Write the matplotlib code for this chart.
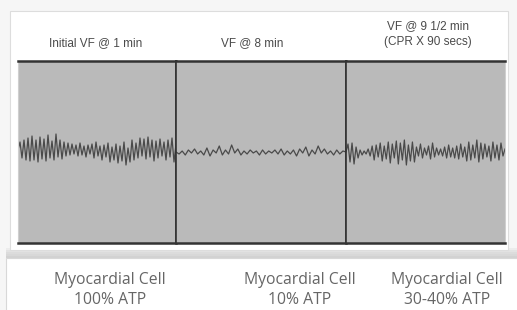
import numpy as np
import matplotlib
matplotlib.use('Agg')
import matplotlib.pyplot as plt
from matplotlib.patches import Rectangle

# Valores de la traza (amplitud en px, positivo hacia arriba)
p1 = [2, 10, -6, 12, -8, 14, -9, 16, -8, 12, -10, 15, -7, 13, -9, 17, -6, 11, -8, 18,
      -5, 12, -7, 10, -4, 9, -3, 8, -2, 7, -4, 9, -3, 6, -5, 7, -2, 8, -6, 10,
      -4, 6, -8, 7, -5, 9, -10, 5, -8, 8, -11, 6, -9, 10, -13, 4, -10, 12, -8, 9,
      -6, 14, -4, 13, -7, 15, -5, 12, -9, 11, -6, 13, -4, 10, -8, 12, -5, 14, -10, 8]
p2 = [0, -2, 1, -3, 2, -1, 3, -2, 1, -3, 4, -4, 2, -1, 6, -3, 2, -2, 7, -1,
      3, -3, 1, -2, 2, -1, 1, -3, 2, -2, 1, -1, 2, -2, 3, -3, 1, -2, 2, -4,
      3, -1, 5, -4, 2, -2, 6, -1, 3, -2, 1, -3, 2, -2, 1, 0]
p3 = [0, 8, -10, 9, -12, 5, -6, 2, -3, 1, -2, 3, -4, 6, -8, 7, -5, 9, -9, 6,
      -7, 10, -11, 8, -6, 11, -12, 9, -8, 12, -13, 7, -9, 10, -10, 5, -4, 8, -6, 4,
      -3, 6, -7, 9, -5, 4, -3, 3, -4, 5, -6, 7, -5, 4, -6, 6, -7, 8, -5, 5,
      -9, 10, -8, 7, -6, 12, -10, 9, -7, 8, -5, 6, -9, 10, -6, 7, -8, 9, -4, 3]
trazas = [p1, p2, p3]

titulos = ['Initial VF @ 1 min', 'VF @ 8 min', 'VF @ 9 1/2 min\n(CPR X 90 secs)']
etiquetas = ['Myocardial Cell\n100% ATP', 'Myocardial Cell\n10% ATP', 'Myocardial Cell\n30-40% ATP']

W, H = 517, 310
fig = plt.figure(figsize=(W/100, H/100), dpi=100, facecolor='#f6f6f6')

def fx(px): return px/W
def fy(py): return 1 - py/H

# sombra y tarjetas blancas
for i, a in enumerate([0.05, 0.05, 0.06, 0.07, 0.08]):
    fig.patches.append(Rectangle((fx(6), fy(258)), fx(511), (i+1)*2/H, transform=fig.transFigure,
                                 facecolor='#7a7a7a', alpha=a, edgecolor='none', zorder=0))
fig.patches.append(Rectangle((fx(10), fy(250)), fx(498), 239/H, transform=fig.transFigure,
                             facecolor='white', edgecolor='#dddddd', lw=0.8, zorder=1))
fig.patches.append(Rectangle((fx(6), fy(312)), fx(520), 54/H, transform=fig.transFigure,
                             facecolor='white', edgecolor='#d8d8d8', lw=0.8, zorder=1))

bordes = [18, 176, 346, 505]
top, bot = 61, 243
centros_titulo = [96, 252, 428]
centros_etq = [110, 300, 447]

for i in range(3):
    ax = fig.add_axes([fx(bordes[i]), fy(bot), fx(bordes[i+1]-bordes[i]), (bot-top)/H])
    ax.set_zorder(3)
    ax.set_facecolor('#bababa')
    y = trazas[i]
    ax.plot(range(len(y)), y, color='#4a4a4a', lw=0.9)
    ax.set_xlim(0, len(y)-1)
    ax.set_ylim(-91, 91)
    ax.set_xticks([])
    ax.set_yticks([])
    for s in ax.spines.values():
        s.set_color('#333333')
        s.set_linewidth(1.2)
    ax.spines['top'].set_linewidth(1.8)
    ax.spines['bottom'].set_linewidth(1.8)
    if i == 0:
        ax.spines['left'].set_color('#cfcfcf')
        ax.spines['left'].set_linewidth(0.8)
    if i == 2:
        ax.spines['right'].set_color('#cfcfcf')
        ax.spines['right'].set_linewidth(0.8)
    va_y = 43 if i < 2 else 34
    fig.text(fx(centros_titulo[i]), fy(va_y), titulos[i], ha='center', va='center',
             fontsize=8.5, color='#4a4a4a', family='Liberation Sans', linespacing=1.5)
    fig.text(fx(centros_etq[i]), fy(290), etiquetas[i], ha='center', va='center',
             fontsize=11.3, color='#666666', family='Open Sans', linespacing=1.3)

fig.savefig('out.png', dpi=100, facecolor=fig.get_facecolor())
